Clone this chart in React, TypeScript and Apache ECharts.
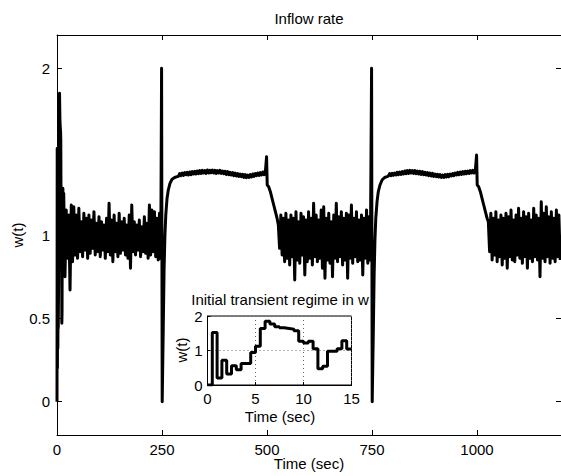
import React, { useEffect, useRef } from "react";
import * as echarts from "echarts";

const FONT = '"Liberation Sans", Arial, Helvetica, sans-serif';

// ---- Inset: initial transient (stair values held over [t_i, t_{i+1}))
const initTimes = [0, 0.5, 1, 1.5, 2, 2.5, 3, 3.5, 4, 4.5, 5, 5.5, 6, 6.5, 7, 7.5, 8, 8.5, 9, 9.5, 10, 10.5, 11, 11.5, 12, 12.5, 13, 13.5, 14, 14.5, 15];
const initValues = [0, 1.52, 0.2, 0.72, 0.32, 0.56, 0.44, 0.62, 0.62, 0.94, 1.12, 1.64, 1.85, 1.77, 1.69, 1.66, 1.64, 1.62, 1.57, 1.27, 1.22, 1.27, 1.05, 0.47, 0.54, 0.98, 0.98, 1.05, 1.28, 1.04, 1.04];

// ---- Main series, noisy regime 1 (t = 16, 19, ... 247)
const noise1Start = 16;
const noise1Step = 3;
const noise1 = [
  1.25, 0.75, 1.15, 0.86, 1.12, 0.67, 1.18, 0.84, 1.17, 0.88,
  1.12, 0.86, 1.16, 0.9, 1.08, 0.87, 1.13, 0.91, 1.1, 0.86,
  1.12, 0.89, 1.09, 0.92, 1.14, 0.88, 1.07, 0.9, 1.11, 0.87,
  1.08, 0.91, 1.06, 0.86, 1.1, 0.9, 1.19, 0.88, 1.09, 0.84,
  1.12, 0.9, 1.07, 0.87, 1.13, 0.89, 1.08, 0.91, 1.1, 0.88,
  1.06, 0.86, 1.12, 0.8, 1.18, 0.9, 1.08, 0.88, 1.06, 0.91,
  1.09, 0.87, 1.05, 0.9, 1.11, 0.89, 1.07, 0.86, 1.18, 0.88,
  1.15, 0.9, 1.14, 0.87, 1.1, 0.85, 1.13, 0.86,
];
const spike1Times = [249, 250.5, 250.5, 252];
const spike1Values = [2.0, 2.0, 0.0, 0.0];
const rise1Times = [253, 255, 257, 259, 262, 265, 269, 274, 280, 286];
const rise1Values = [0.45, 0.8, 1.0, 1.12, 1.22, 1.27, 1.31, 1.335, 1.345, 1.35];
const plateau1Start = 289;
const plateau1Step = 3;
const plateau1 = [
  1.352, 1.368, 1.356, 1.372, 1.358, 1.374, 1.362, 1.376, 1.36, 1.378,
  1.362, 1.38, 1.366, 1.382, 1.366, 1.384, 1.368, 1.386, 1.37, 1.388,
  1.372, 1.386, 1.37, 1.39, 1.372, 1.388, 1.374, 1.39, 1.372, 1.388,
  1.37, 1.386, 1.372, 1.388, 1.37, 1.384, 1.368, 1.382, 1.364, 1.38,
  1.362, 1.376, 1.36, 1.374, 1.356, 1.372, 1.354, 1.368, 1.352, 1.366,
  1.35, 1.364, 1.346, 1.362, 1.344, 1.36, 1.346, 1.362, 1.348, 1.366,
  1.352, 1.368, 1.356, 1.372, 1.358, 1.374, 1.36, 1.378, 1.362, 1.376,
];
const peak1Times = [499, 500.5];
const peak1Values = [1.47, 1.3];
const decay1Times = [504, 508, 512, 516, 520, 524];
const decay1Values = [1.29, 1.26, 1.22, 1.18, 1.14, 1.1];

// ---- noisy regime 2 (t = 527 ... 746)
const noise2Start = 527;
const noise2Step = 3;
const noise2 = [
  1.06, 0.92, 1.12, 0.88, 1.1, 0.84, 1.13, 0.86, 1.09, 0.82,
  1.12, 0.87, 1.1, 0.73, 1.14, 0.85, 1.08, 0.83, 1.13, 0.88,
  1.11, 0.76, 1.09, 0.84, 1.14, 0.86, 1.1, 0.82, 1.19, 0.87,
  1.12, 0.84, 1.09, 0.86, 1.15, 0.8, 1.17, 0.74, 1.1, 0.85,
  1.13, 0.83, 1.08, 0.75, 1.12, 0.86, 1.19, 0.84, 1.11, 0.87,
  1.14, 0.82, 1.1, 0.85, 1.13, 0.74, 1.12, 0.86, 1.18, 0.83,
  1.1, 0.87, 1.14, 0.84, 1.09, 0.85, 1.12, 0.76, 1.1, 0.86,
  1.15, 0.83, 1.11, 0.85,
];
const spike2Times = [749, 750.5, 750.5, 752];
const spike2Values = [2.0, 2.0, 0.0, 0.0];
const rise2Times = [753, 755, 757, 759, 762, 765, 769, 774, 780, 786];
const rise2Values = [0.4, 0.75, 0.97, 1.1, 1.2, 1.26, 1.3, 1.33, 1.345, 1.35];
const plateau2Start = 789;
const plateau2Step = 3;
const plateau2 = [
  1.354, 1.368, 1.356, 1.37, 1.358, 1.372, 1.36, 1.376, 1.362, 1.378,
  1.364, 1.38, 1.366, 1.384, 1.368, 1.386, 1.37, 1.388, 1.372, 1.386,
  1.37, 1.386, 1.368, 1.384, 1.366, 1.382, 1.364, 1.38, 1.362, 1.376,
  1.36, 1.374, 1.356, 1.372, 1.354, 1.37, 1.352, 1.366, 1.35, 1.364,
  1.348, 1.362, 1.346, 1.36, 1.346, 1.362, 1.348, 1.364, 1.35, 1.366,
  1.354, 1.368, 1.356, 1.372, 1.36, 1.376, 1.362, 1.378, 1.364, 1.38,
  1.366, 1.382, 1.368, 1.384, 1.37, 1.386, 1.372, 1.388, 1.372, 1.386,
];
const peak2Times = [999, 1000.5];
const peak2Values = [1.48, 1.3];
const decay2Times = [1004, 1008, 1012, 1016, 1020, 1024];
const decay2Values = [1.29, 1.26, 1.22, 1.18, 1.14, 1.1];

// ---- noisy regime 3 (t = 1027 ... 1198)
const noise3Start = 1027;
const noise3Step = 3;
const noise3 = [
  1.08, 0.9, 1.13, 0.85, 1.1, 0.88, 1.14, 0.84, 1.09, 0.87,
  1.12, 0.82, 1.1, 0.86, 1.13, 0.8, 1.11, 0.87, 1.15, 0.85,
  1.09, 0.84, 1.12, 0.88, 1.16, 0.86, 1.1, 0.83, 1.14, 0.87,
  1.11, 0.8, 1.13, 0.86, 1.09, 0.84, 1.16, 0.87, 1.12, 0.85,
  1.1, 0.75, 1.2, 0.86, 1.13, 0.84, 1.17, 0.87, 1.11, 0.83,
  1.14, 0.86, 1.1, 0.84, 1.15, 0.87, 1.12, 0.85,
];

// ---- axis ticks
const mainXTicks = [0, 250, 500, 750, 1000];
const mainYTicks = [0, 0.5, 1, 2];

function pairs(ts: number[], vs: number[]) {
  return ts.map((t, i) => [t, vs[i]]);
}
function regular(start: number, step: number, vs: number[]) {
  return vs.map((v, i) => [start + i * step, v]);
}
function stairs(ts: number[], vs: number[]) {
  const out: number[][] = [];
  for (let i = 0; i < ts.length; i++) {
    out.push([ts[i], vs[i]]);
    if (i + 1 < ts.length) out.push([ts[i + 1], vs[i]]);
  }
  return out;
}

export default function App() {
  const ref = useRef<HTMLDivElement>(null);
  useEffect(() => {
    const chart = echarts.init(ref.current!, null, { renderer: "svg" });
    const mainData = [
      ...stairs(initTimes, initValues),
      ...regular(noise1Start, noise1Step, noise1),
      ...pairs(spike1Times, spike1Values),
      ...pairs(rise1Times, rise1Values),
      ...regular(plateau1Start, plateau1Step, plateau1),
      ...pairs(peak1Times, peak1Values),
      ...pairs(decay1Times, decay1Values),
      ...regular(noise2Start, noise2Step, noise2),
      ...pairs(spike2Times, spike2Values),
      ...pairs(rise2Times, rise2Values),
      ...regular(plateau2Start, plateau2Step, plateau2),
      ...pairs(peak2Times, peak2Values),
      ...pairs(decay2Times, decay2Values),
      ...regular(noise3Start, noise3Step, noise3),
    ];
    const insetData = pairs(initTimes, initValues);

    const black = { color: "#000", width: 1 };
    const fmt = (v: number) => String(v);
    const labelStyle = { color: "#000", fontSize: 15, fontFamily: FONT, formatter: fmt };
    const textStyle = (text: string, x: number, y: number, rot = 0) => ({
      type: "text",
      x,
      y,
      rotation: rot,
      silent: true,
      style: {
        text,
        fill: "#000",
        fontSize: 15,
        fontFamily: FONT,
        textAlign: "center",
        textVerticalAlign: "middle",
      },
    });

    const option: any = {
      animation: false,
      backgroundColor: "#fff",
      grid: [
        { left: 57, top: 35, width: 506, height: 400, containLabel: false },
        {
          left: 207.5,
          top: 316,
          width: 144,
          height: 69,
          containLabel: false,
          show: true,
          backgroundColor: "#fff",
          borderColor: "#000",
          borderWidth: 1,
          z: 5,
        },
      ],
      xAxis: [
        {
          gridIndex: 0,
          type: "value",
          min: 0,
          max: 1200,
          position: "bottom",
          axisLine: { show: true, onZero: false, lineStyle: black },
          axisTick: { show: true, inside: true, length: 5, customValues: mainXTicks, lineStyle: black },
          axisLabel: { ...labelStyle, margin: 7, customValues: mainXTicks },
          splitLine: { show: false },
        },
        {
          gridIndex: 0,
          type: "value",
          min: 0,
          max: 1200,
          position: "top",
          axisLine: { show: true, onZero: false, lineStyle: black },
          axisTick: { show: true, inside: true, length: 5, customValues: mainXTicks, lineStyle: black },
          axisLabel: { show: false },
          splitLine: { show: false },
        },
        {
          gridIndex: 1,
          type: "value",
          min: 0,
          max: 15,
          interval: 5,
          position: "bottom",
          z: 6,
          axisLine: { show: true, onZero: false, lineStyle: black },
          axisTick: { show: true, inside: true, length: 3, lineStyle: black },
          axisLabel: { ...labelStyle, margin: 6 },
          splitLine: { show: true, lineStyle: { color: "#666", type: [1, 3], width: 1 } },
        },
      ],
      yAxis: [
        {
          gridIndex: 0,
          type: "value",
          min: -0.2,
          max: 2.2,
          position: "left",
          axisLine: { show: true, onZero: false, lineStyle: black },
          axisTick: { show: true, inside: true, length: 5, customValues: mainYTicks, lineStyle: black },
          axisLabel: { ...labelStyle, margin: 7, customValues: mainYTicks },
          splitLine: { show: false },
        },
        {
          gridIndex: 0,
          type: "value",
          min: -0.2,
          max: 2.2,
          position: "right",
          axisLine: { show: true, onZero: false, lineStyle: black },
          axisTick: { show: true, inside: true, length: 5, customValues: mainYTicks, lineStyle: black },
          axisLabel: { show: false },
          splitLine: { show: false },
        },
        {
          gridIndex: 1,
          type: "value",
          min: 0,
          max: 2,
          interval: 1,
          position: "left",
          z: 6,
          axisLine: { show: true, onZero: false, lineStyle: black },
          axisTick: { show: true, inside: true, length: 3, lineStyle: black },
          axisLabel: { ...labelStyle, margin: 5 },
          splitLine: { show: true, lineStyle: { color: "#666", type: [1, 3], width: 1 } },
        },
      ],
      series: [
        {
          type: "line",
          xAxisIndex: 0,
          yAxisIndex: 0,
          data: mainData,
          showSymbol: false,
          symbol: "none",
          lineStyle: { color: "#000", width: 3, join: "round" },
          z: 2,
        },
        {
          type: "line",
          xAxisIndex: 2,
          yAxisIndex: 2,
          data: insetData,
          step: "end",
          showSymbol: false,
          symbol: "none",
          lineStyle: { color: "#000", width: 3 },
          z: 7,
        },
      ],
      graphic: [
        textStyle("Inflow rate", 309, 18),
        textStyle("Time (sec)", 309, 463),
        textStyle("w(t)", 17, 235, Math.PI / 2),
        textStyle("Initial transient regime in w", 280, 299),
        textStyle("Time (sec)", 280, 416),
        textStyle("w(t)", 181, 350, Math.PI / 2),
      ],
    };
    chart.setOption(option);
    return () => chart.dispose();
  }, []);
  return (
    <div
      ref={ref}
      style={{ width: 561, height: 476, position: "absolute", left: 0, top: 0 }}
    />
  );
}
